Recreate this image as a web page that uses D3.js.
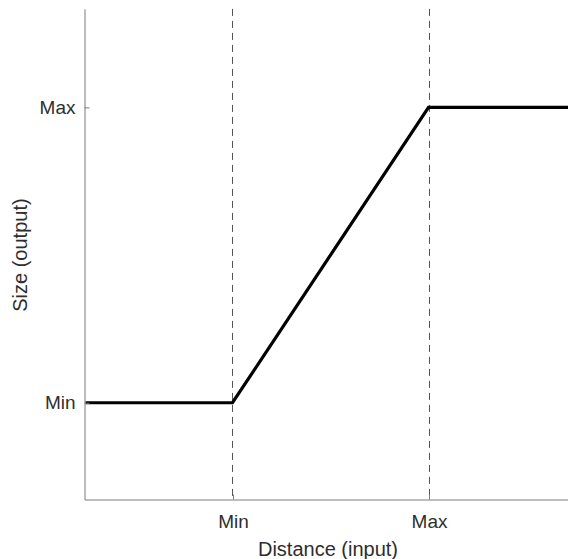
<!DOCTYPE html>
<html>
<head>
<meta charset="utf-8">
<script src="https://cdn.jsdelivr.net/npm/d3@7"></script>
<style>
  html, body { margin: 0; padding: 0; background: #fff; }
  svg { display: block; font-family: "Liberation Sans", Arial, sans-serif; }
</style>
</head>
<body>
<svg id="chart" width="568" height="559"></svg>
<script>
// Data
const xTickValues = [0.3, 0.7];
const xTickLabels = ["Min", "Max"];
const yTickValues = [0.2, 0.8];
const yTickLabels = ["Min", "Max"];
const curveX = [0, 0.3, 0.7, 1];
const curveY = [0.2, 0.2, 0.8, 0.8];
const xLabel = "Distance (input)";
const yLabel = "Size (output)";

const svg = d3.select("#chart");
const x = d3.scaleLinear().domain([-0.003, 1.003]).range([84, 577]);
const y = d3.scaleLinear().domain([0.0035, 1.0]).range([499.5, 8.9]);

const axisColor = "#7a7a7a";
const textColor = "#2e2e2e";

// dashed verticals
svg.append("g").selectAll("line").data(xTickValues).join("line")
  .attr("x1", d => Math.round(x(d)) + 0.5).attr("x2", d => Math.round(x(d)) + 0.5)
  .attr("y1", y(1)).attr("y2", y(0.0035))
  .attr("stroke", "#555").attr("stroke-width", 1)
  .attr("stroke-dasharray", "7,5");

// curve
const pts = curveX.map((d, i) => [d, curveY[i]]);
svg.append("path")
  .datum(pts)
  .attr("d", d3.line().x(d => x(d[0])).y(d => y(d[1])))
  .attr("fill", "none").attr("stroke", "#000").attr("stroke-width", 3.2)
  .attr("stroke-linejoin", "miter");

// axes
const xAxis = d3.axisBottom(x).tickValues(xTickValues)
  .tickFormat((d, i) => xTickLabels[i]).tickSizeInner(-5).tickSizeOuter(0).tickPadding(15);
const yAxis = d3.axisLeft(y).tickValues(yTickValues)
  .tickFormat((d, i) => yTickLabels[i]).tickSizeInner(-5).tickSizeOuter(0).tickPadding(9);

const gx = svg.append("g").attr("transform", `translate(0.5,${Math.round(y(0.0035)) - 0.5})`).call(xAxis);
const gy = svg.append("g").attr("transform", `translate(0.5,0)`).call(yAxis);
gy.attr("transform", `translate(${84 + 0.5},0)`);

[gx, gy].forEach(g => {
  g.select(".domain").attr("stroke", axisColor);
  g.selectAll(".tick line").attr("stroke", axisColor);
  g.selectAll(".tick text").attr("fill", textColor)
    .style("font-size", "19px").style("font-family", '"Liberation Sans", Arial, sans-serif');
});

// axis labels
svg.append("text")
  .attr("x", 328).attr("y", 556)
  .attr("text-anchor", "middle").attr("fill", textColor)
  .style("font-size", "20px")
  .text(xLabel);

svg.append("text")
  .attr("transform", `translate(27,${(y(0) + y(1)) / 2}) rotate(-90)`)
  .attr("text-anchor", "middle").attr("fill", textColor)
  .style("font-size", "20px")
  .text(yLabel);
</script>
</body>
</html>
